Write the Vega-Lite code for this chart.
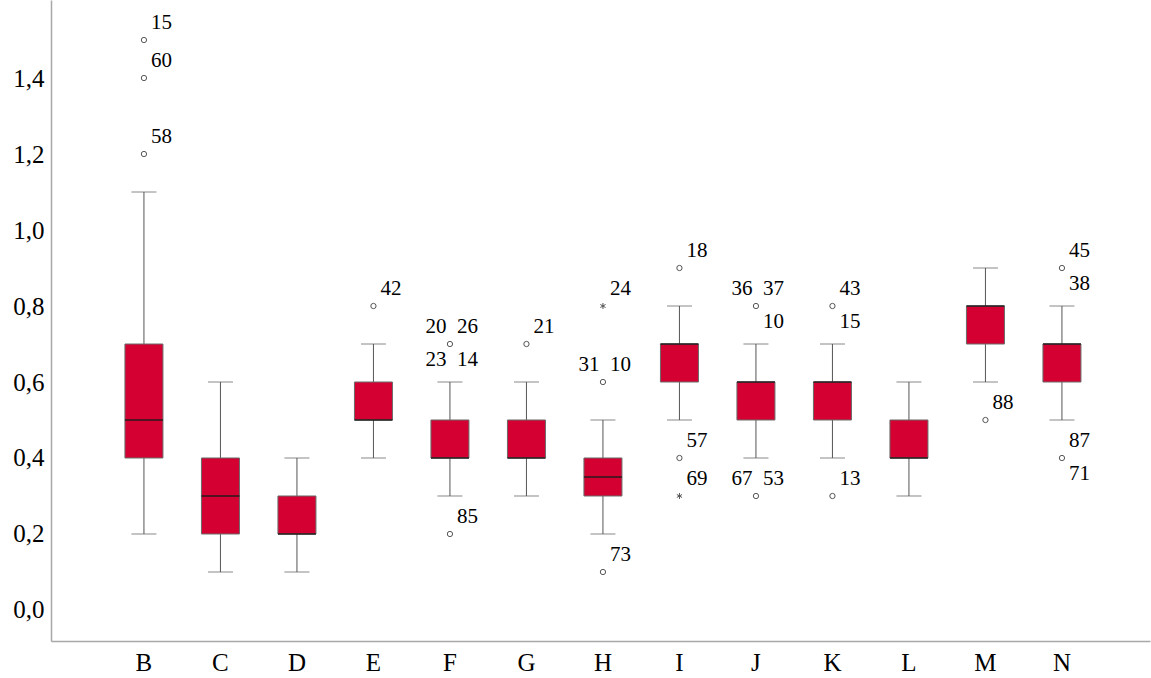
{
  "$schema": "https://vega.github.io/schema/vega-lite/v6.json",
  "autosize": {"type": "none"},
  "width": 1099,
  "height": 641,
  "padding": {"left": 51, "top": 0, "right": 1, "bottom": 37},
  "background": "white",
  "config": {"view": {"stroke": null}, "font": "Liberation Serif"},
  "datasets": {
    "boxes": [
      {"cat": "B", "lo": 0.2, "q1": 0.4, "med": 0.5, "q3": 0.7, "hi": 1.1},
      {"cat": "C", "lo": 0.1, "q1": 0.2, "med": 0.3, "q3": 0.4, "hi": 0.6},
      {"cat": "D", "lo": 0.1, "q1": 0.2, "med": 0.2, "q3": 0.3, "hi": 0.4},
      {"cat": "E", "lo": 0.4, "q1": 0.5, "med": 0.5, "q3": 0.6, "hi": 0.7},
      {"cat": "F", "lo": 0.3, "q1": 0.4, "med": 0.4, "q3": 0.5, "hi": 0.6},
      {"cat": "G", "lo": 0.3, "q1": 0.4, "med": 0.4, "q3": 0.5, "hi": 0.6},
      {"cat": "H", "lo": 0.2, "q1": 0.3, "med": 0.35, "q3": 0.4, "hi": 0.5},
      {"cat": "I", "lo": 0.5, "q1": 0.6, "med": 0.7, "q3": 0.7, "hi": 0.8},
      {"cat": "J", "lo": 0.4, "q1": 0.5, "med": 0.6, "q3": 0.6, "hi": 0.7},
      {"cat": "K", "lo": 0.4, "q1": 0.5, "med": 0.6, "q3": 0.6, "hi": 0.7},
      {"cat": "L", "lo": 0.3, "q1": 0.4, "med": 0.4, "q3": 0.5, "hi": 0.6},
      {"cat": "M", "lo": 0.6, "q1": 0.7, "med": 0.8, "q3": 0.8, "hi": 0.9},
      {"cat": "N", "lo": 0.5, "q1": 0.6, "med": 0.7, "q3": 0.7, "hi": 0.8}
    ],
    "outliers": [
      {"cat": "B", "value": 1.5, "kind": "outlier", "top": "15", "bottom": ""},
      {"cat": "B", "value": 1.4, "kind": "outlier", "top": "60", "bottom": ""},
      {"cat": "B", "value": 1.2, "kind": "outlier", "top": "58", "bottom": ""},
      {"cat": "E", "value": 0.8, "kind": "outlier", "top": "42", "bottom": ""},
      {"cat": "F", "value": 0.7, "kind": "outlier", "top": "20\u00a0\u00a026", "bottom": "23\u00a0\u00a014"},
      {"cat": "F", "value": 0.2, "kind": "outlier", "top": "85", "bottom": ""},
      {"cat": "G", "value": 0.7, "kind": "outlier", "top": "21", "bottom": ""},
      {"cat": "H", "value": 0.8, "kind": "extreme", "top": "24", "bottom": ""},
      {"cat": "H", "value": 0.6, "kind": "outlier", "top": "31\u00a0\u00a010", "bottom": ""},
      {"cat": "H", "value": 0.1, "kind": "outlier", "top": "73", "bottom": ""},
      {"cat": "I", "value": 0.9, "kind": "outlier", "top": "18", "bottom": ""},
      {"cat": "I", "value": 0.4, "kind": "outlier", "top": "57", "bottom": ""},
      {"cat": "I", "value": 0.3, "kind": "extreme", "top": "69", "bottom": ""},
      {"cat": "J", "value": 0.8, "kind": "outlier", "top": "36\u00a0\u00a037", "bottom": "10"},
      {"cat": "J", "value": 0.3, "kind": "outlier", "top": "67\u00a0\u00a053", "bottom": ""},
      {"cat": "K", "value": 0.8, "kind": "outlier", "top": "43", "bottom": "15"},
      {"cat": "K", "value": 0.3, "kind": "outlier", "top": "13", "bottom": ""},
      {"cat": "M", "value": 0.5, "kind": "outlier", "top": "88", "bottom": ""},
      {"cat": "N", "value": 0.9, "kind": "outlier", "top": "45", "bottom": "38"},
      {"cat": "N", "value": 0.4, "kind": "outlier", "top": "87", "bottom": "71"}
    ]
  },
  "encoding": {
    "x": {
      "field": "cat", "type": "nominal",
      "scale": {"type": "band", "paddingInner": 0.634, "paddingOuter": 1, "align": 0.516, "domain": ["B","C","D","E","F","G","H","I","J","K","L","M","N"]},
      "axis": {"title": null, "domainColor": "#a8a8a8", "domainWidth": 1.5, "ticks": false, "labelFont": "Liberation Serif", "labelFontSize": 25, "labelColor": "#000000", "labelPadding": 9, "labelAngle": 0}
    }
  },
  "layer": [
    {
      "data": {"name": "boxes"},
      "mark": {"type": "rule", "color": "#555555", "strokeWidth": 1},
      "encoding": {
        "y": {"field": "lo", "type": "quantitative",
          "scale": {"domain": [-0.0816, 1.6053], "nice": false, "zero": false},
          "axis": {"title": null, "values": [0, 0.2, 0.4, 0.6, 0.8, 1.0, 1.2, 1.4], "labelExpr": "replace(format(datum.value, '.1f'), '.', ',')", "domainColor": "#a8a8a8", "domainWidth": 1.5, "ticks": false, "grid": false, "labelFont": "Liberation Serif", "labelFontSize": 25, "labelColor": "#000000", "labelPadding": 7}},
        "y2": {"field": "hi"}
      }
    },
    {
      "data": {"name": "boxes"},
      "mark": {"type": "tick", "color": "#555555", "size": 25, "thickness": 1},
      "encoding": {"y": {"field": "lo", "type": "quantitative"}}
    },
    {
      "data": {"name": "boxes"},
      "mark": {"type": "tick", "color": "#555555", "size": 25, "thickness": 1},
      "encoding": {"y": {"field": "hi", "type": "quantitative"}}
    },
    {
      "data": {"name": "boxes"},
      "mark": {"type": "bar", "size": 38, "color": "#D50032", "stroke": "#6a6a6a", "strokeWidth": 1},
      "encoding": {"y": {"field": "q1", "type": "quantitative"}, "y2": {"field": "q3"}}
    },
    {
      "data": {"name": "boxes"},
      "mark": {"type": "tick", "color": "#1a1a1a", "size": 38, "thickness": 2},
      "encoding": {"y": {"field": "med", "type": "quantitative"}}
    },
    {
      "data": {"name": "outliers"},
      "mark": {"type": "point", "filled": false, "strokeWidth": 1, "opacity": 1},
      "encoding": {
        "y": {"field": "value", "type": "quantitative"},
        "shape": {"field": "kind", "type": "nominal", "legend": null,
          "scale": {"domain": ["outlier", "extreme"], "range": ["circle", "M0,-1L0,1M-0.87,-0.5L0.87,0.5M-0.87,0.5L0.87,-0.5"]}},
        "size": {"field": "kind", "type": "nominal", "legend": null,
          "scale": {"domain": ["outlier", "extreme"], "range": [28, 36]}},
        "color": {"value": "#555555"}
      }
    },
    {
      "data": {"name": "outliers"},
      "mark": {"type": "text", "align": "right", "baseline": "middle", "dx": 28, "dy": -17, "font": "Liberation Serif", "fontSize": 21, "color": "#000000"},
      "encoding": {"y": {"field": "value", "type": "quantitative"}, "text": {"field": "top"}}
    },
    {
      "data": {"name": "outliers"},
      "mark": {"type": "text", "align": "right", "baseline": "middle", "dx": 28, "dy": 16, "font": "Liberation Serif", "fontSize": 21, "color": "#000000"},
      "encoding": {"y": {"field": "value", "type": "quantitative"}, "text": {"field": "bottom"}}
    }
  ]
}
